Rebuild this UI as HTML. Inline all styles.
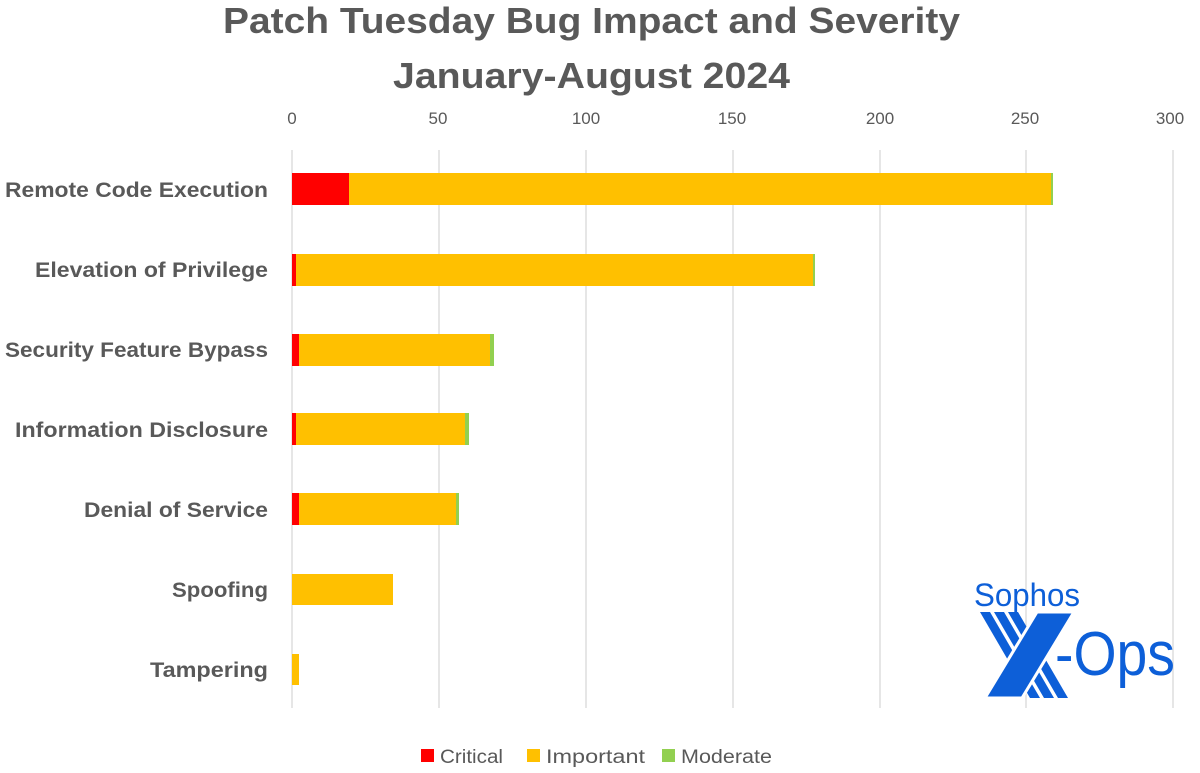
<!DOCTYPE html>
<html><head><style>body{margin:0;background:#fff}</style></head><body>
<svg width="1200" height="768" xmlns="http://www.w3.org/2000/svg" style="font-family:'Liberation Sans',sans-serif">
<rect width="1200" height="768" fill="#fff"/>
<text x="223" y="33" font-size="36" font-weight="bold" fill="#595959" textLength="737" lengthAdjust="spacingAndGlyphs">Patch Tuesday Bug Impact and Severity</text>
<text x="393" y="88" font-size="36" font-weight="bold" fill="#595959" textLength="397" lengthAdjust="spacingAndGlyphs">January-August 2024</text>
<g stroke="#d9d9d9" stroke-width="1.3">
<line x1="292" y1="150" x2="292" y2="708"/><line x1="439" y1="150" x2="439" y2="708"/><line x1="586" y1="150" x2="586" y2="708"/><line x1="733" y1="150" x2="733" y2="708"/><line x1="880" y1="150" x2="880" y2="708"/><line x1="1026" y1="150" x2="1026" y2="708"/><line x1="1173" y1="150" x2="1173" y2="708"/>
</g>
<g font-size="17" fill="#595959" text-anchor="middle">
<text x="292" y="124">0</text><text x="438" y="124">50</text><text x="586" y="124">100</text><text x="732" y="124">150</text><text x="880" y="124">200</text><text x="1025" y="124">250</text><text x="1170" y="124">300</text>
</g>
<g font-size="21" font-weight="bold" fill="#595959" lengthAdjust="spacingAndGlyphs">
<text x="5" y="197" textLength="263" lengthAdjust="spacingAndGlyphs">Remote Code Execution</text>
<text x="35" y="277" textLength="233" lengthAdjust="spacingAndGlyphs">Elevation of Privilege</text>
<text x="5" y="357" textLength="263" lengthAdjust="spacingAndGlyphs">Security Feature Bypass</text>
<text x="15" y="437" textLength="253" lengthAdjust="spacingAndGlyphs">Information Disclosure</text>
<text x="84" y="517" textLength="184" lengthAdjust="spacingAndGlyphs">Denial of Service</text>
<text x="172" y="597" textLength="96" lengthAdjust="spacingAndGlyphs">Spoofing</text>
<text x="150" y="677" textLength="118" lengthAdjust="spacingAndGlyphs">Tampering</text>
</g>
<rect x="292" y="173" width="57" height="32" fill="#ff0000"/><rect x="349" y="173" width="702" height="32" fill="#ffc000"/><rect x="1051" y="173" width="2" height="32" fill="#92d050"/>
<rect x="292" y="254" width="4" height="32" fill="#ff0000"/><rect x="296" y="254" width="517" height="32" fill="#ffc000"/><rect x="813" y="254" width="2" height="32" fill="#92d050"/>
<rect x="292" y="334" width="7" height="32" fill="#ff0000"/><rect x="299" y="334" width="191" height="32" fill="#ffc000"/><rect x="490" y="334" width="4" height="32" fill="#92d050"/>
<rect x="292" y="413" width="4" height="32" fill="#ff0000"/><rect x="296" y="413" width="169" height="32" fill="#ffc000"/><rect x="465" y="413" width="4" height="32" fill="#92d050"/>
<rect x="292" y="493" width="7" height="32" fill="#ff0000"/><rect x="299" y="493" width="157" height="32" fill="#ffc000"/><rect x="456" y="493" width="3" height="32" fill="#92d050"/>
<rect x="292" y="574" width="101" height="31" fill="#ffc000"/>
<rect x="292" y="654" width="7" height="31" fill="#ffc000"/>
<g font-size="19" fill="#595959">
<rect x="421" y="749" width="13" height="13" fill="#ff0000"/><text x="440" y="763" textLength="63" lengthAdjust="spacingAndGlyphs">Critical</text>
<rect x="527" y="749" width="13" height="13" fill="#ffc000"/><text x="546" y="763" textLength="99" lengthAdjust="spacingAndGlyphs">Important</text>
<rect x="662" y="749" width="13" height="13" fill="#92d050"/><text x="681" y="763" textLength="91" lengthAdjust="spacingAndGlyphs">Moderate</text>
</g>
<g fill="#0d5fd8">
<text x="974" y="606" font-size="32" textLength="106" lengthAdjust="spacingAndGlyphs">Sophos</text>
<polygon points="980,612 990,612 1040,698 1030,698"/>
<polygon points="994,612 1004,612 1054,698 1044,698"/>
<polygon points="1008,612 1018,612 1068,698 1058,698"/>
<polygon points="1037,612 1074,612 1022,698 985,698" stroke="#fff" stroke-width="3"/>
<text x="1055" y="675" font-size="62" textLength="120" lengthAdjust="spacingAndGlyphs">-Ops</text>
</g>
</svg>
</body></html>
